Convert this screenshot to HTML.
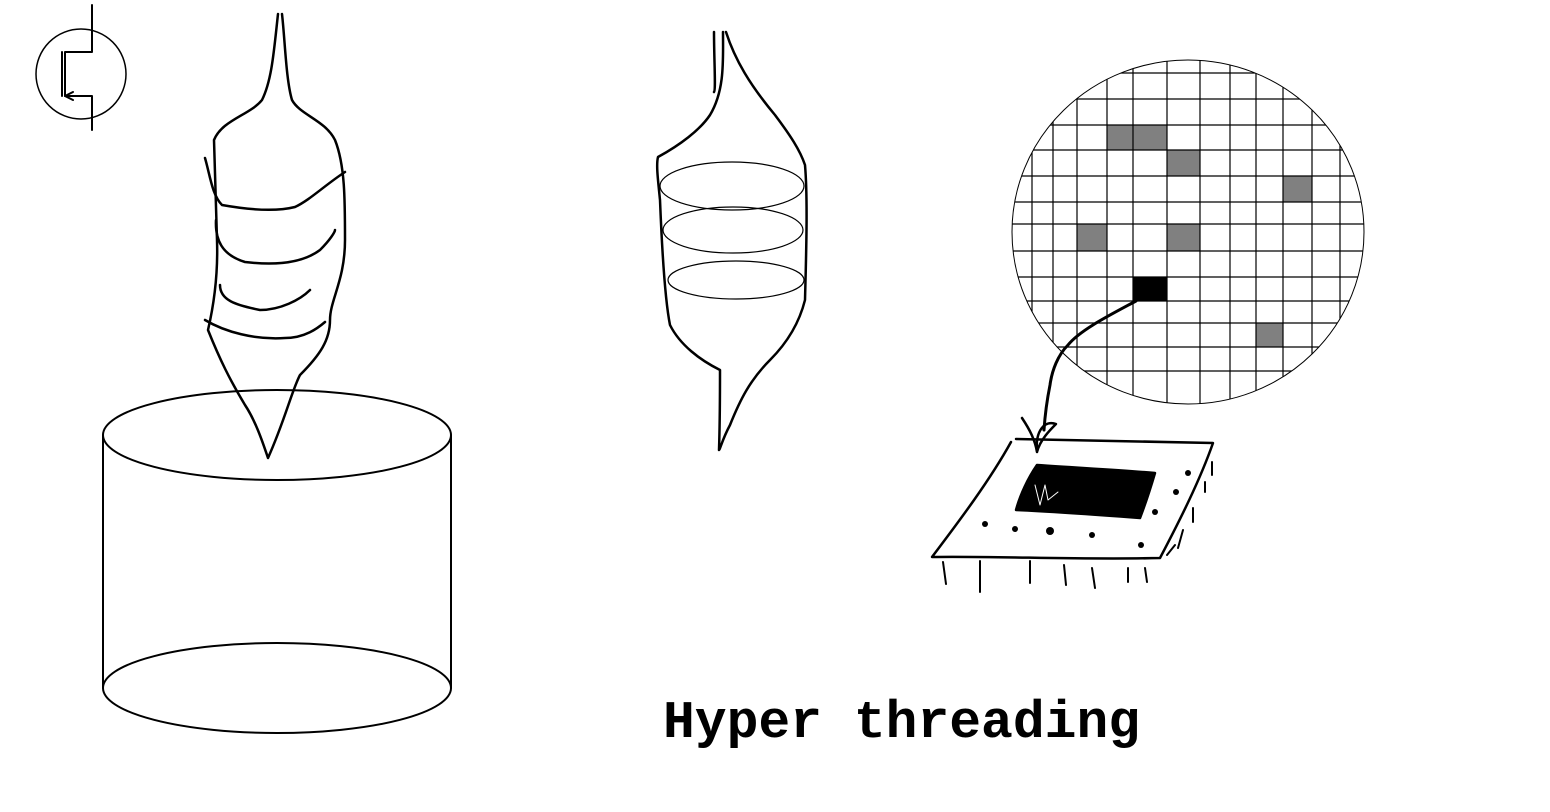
<!DOCTYPE html>
<html><head><meta charset="utf-8"><style>
html,body{margin:0;padding:0;background:#fff;width:1550px;height:812px;overflow:hidden}
svg{display:block}
</style></head><body>
<svg width="1550" height="812" viewBox="0 0 1550 812" fill="none" stroke="#000" stroke-linecap="round" stroke-linejoin="round">
<rect width="1550" height="812" fill="#fff" stroke="none"/>
<!-- transistor symbol -->
<g stroke-width="2">
<circle cx="81" cy="74" r="45" stroke-width="1.5"/>
<path d="M92 5 V52 H65 V96 H92 V130"/>
<path d="M62 52 V96"/>
<path d="M65 96 l8 -4 M65 96 l8 4"/>
</g>
<!-- cylinder -->
<g stroke-width="2">
<ellipse cx="277" cy="435" rx="174" ry="45"/>
<ellipse cx="277" cy="688" rx="174" ry="45"/>
<path d="M103 435 V688 M451 435 V688"/>
</g>
<!-- left spindle -->
<g stroke-width="2.5">
<path d="M282 14 C285 40 286 80 292 100 C300 115 325 120 335 140 C345 165 345 200 345 240 C345 280 330 300 330 320 C330 340 320 355 300 375 C292 390 285 420 268 458 C262 440 255 420 245 405 C230 380 220 360 208 330 C215 300 218 270 217 240 C216 200 215 170 214 140 C222 120 250 115 262 100 C272 80 274 50 278 14"/>
<path d="M205 158 C210 175 212 195 222 205 C250 210 275 212 295 207 C310 200 325 185 345 172"/>
<path d="M216 220 C215 240 222 255 245 262 C270 265 300 265 320 250 C330 240 335 232 335 230"/>
<path d="M220 285 C220 300 235 305 260 310 C280 310 300 300 310 290"/>
<path d="M205 320 C225 332 255 340 285 338 C305 338 318 328 325 322"/>
</g>
<!-- middle spindle -->
<g>
<path stroke-width="2.5" d="M714 32 C714 60 716 90 714 92 M726 32 C735 60 750 85 775 115 C790 135 800 150 805 165 C808 200 806 260 805 300 C800 320 790 340 770 360 C750 380 740 400 730 425 C722 440 720 450 719 450 C720 420 720 390 720 370 C700 360 680 345 670 325 C665 300 662 250 660 200 C658 180 656 165 658 157 C680 145 700 130 710 115 C725 90 723 60 723 32"/>
<ellipse cx="732" cy="186" rx="72" ry="24" stroke-width="1.2"/>
<ellipse cx="733" cy="230" rx="70" ry="23" stroke-width="1.2"/>
<ellipse cx="736" cy="280" rx="68" ry="19" stroke-width="1.2"/>
</g>
<!-- wafer -->
<g>
<defs><clipPath id="wc"><ellipse cx="1188" cy="232" rx="176" ry="172"/></clipPath></defs>
<g clip-path="url(#wc)" stroke="none" fill="#808080">
<rect x="1107" y="125" width="60" height="25"/>
<rect x="1167" y="150" width="33" height="26"/>
<rect x="1283" y="176" width="29" height="26"/>
<rect x="1077" y="224" width="30" height="27"/>
<rect x="1167" y="224" width="33" height="27"/>
<rect x="1256" y="323" width="27" height="24"/>
<rect x="1133" y="277" width="34" height="24" fill="#000"/>
</g>
<g clip-path="url(#wc)" stroke-width="1.2">
<path d="M1032 40V430M1053 40V430M1077 40V430M1107 40V430M1133 40V430M1167 40V430M1200 40V430M1230 40V430M1256 40V430M1283 40V430M1312 40V430M1340 40V430"/>
<path d="M990 73H1380M990 99H1380M990 125H1380M990 150H1380M990 176H1380M990 202H1380M990 224H1380M990 251H1380M990 277H1380M990 301H1380M990 323H1380M990 347H1380M990 371H1380"/>
</g>
<ellipse cx="1188" cy="232" rx="176" ry="172" stroke-width="1"/>
</g>
<!-- connector -->
<path stroke-width="3" d="M1136 301 C1110 315 1080 330 1068 345 C1058 355 1052 370 1050 385 C1047 400 1045 415 1044 430"/>
<!-- chip -->
<g stroke-width="2.5">
<path d="M1022 418 C1030 430 1035 440 1037 452 C1040 440 1050 430 1056 424 C1045 420 1035 430 1037 452"/>
<path d="M1016 439 C1080 440 1150 442 1213 443 C1200 480 1180 520 1160 558 C1080 560 1000 556 932 557 C960 520 990 480 1011 442"/>
<path d="M1037 465 C1080 468 1120 470 1155 473 C1150 490 1145 505 1140 518 C1100 515 1060 512 1016 510 C1020 495 1028 478 1037 465Z" fill="#000"/>
<path stroke="#fff" stroke-width="1" d="M1035 485 l5 20 l5 -20 l3 15 l10 -8"/>
<g fill="#000" stroke="none">
<circle cx="985" cy="524" r="3"/><circle cx="1015" cy="529" r="3"/><circle cx="1050" cy="531" r="4"/>
<circle cx="1092" cy="535" r="3"/><circle cx="1141" cy="545" r="3"/><circle cx="1155" cy="512" r="3"/>
<circle cx="1176" cy="492" r="3"/><circle cx="1188" cy="473" r="3"/>
</g>
<path stroke-width="2" d="M943 562 l3 22 M980 561 V592 M1030 561 V583 M1064 565 l2 20 M1092 568 l3 20 M1128 568 V582 M1145 568 l2 14 M1167 555 l8 -10 M1183 530 l-5 18 M1193 508 V522 M1205 482 V492 M1212 462 V475"/>
</g>
<text x="663" y="737" font-family="'Liberation Mono', monospace" font-weight="bold" font-size="53" fill="#000" stroke="none">Hyper threading</text>
</svg>
</body></html>
